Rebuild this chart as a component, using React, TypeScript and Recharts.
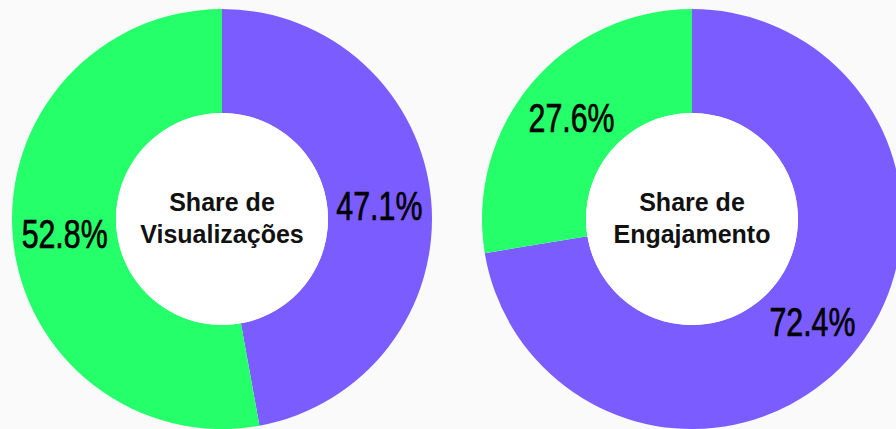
import { Cell, Pie, PieChart } from 'recharts';

const segmentNames = ['Roxo', 'Verde'];
const viewsShare = [47.1, 52.8];
const engagementShare = [72.4, 27.6];
const centerTitles = [
  ['Share de', 'Visualizações'],
  ['Share de', 'Engajamento'],
];

const COLORS = ['#7b5cff', '#25ff6a'];
const RAD = Math.PI / 180;

const viewsData = segmentNames.map((name, i) => ({ name, value: viewsShare[i] }));
const engagementData = segmentNames.map((name, i) => ({ name, value: engagementShare[i] }));

// value label sits in the middle of the ring, in a narrow condensed face
function renderLabel(props: any) {
  const { cx, cy, midAngle, innerRadius, outerRadius, value } = props;
  const r = (innerRadius + outerRadius) / 2;
  const x = cx + r * Math.cos(-midAngle * RAD);
  const y = cy + r * Math.sin(-midAngle * RAD);
  return (
    <text
      x={x - 43}
      y={y + 15}
      fill="#000"
      stroke="#000"
      strokeWidth={0.7}
      fontFamily="'Liberation Sans', Arial, sans-serif"
      fontSize={41}
      textLength={86}
      lengthAdjust="spacingAndGlyphs"
    >
      {`${value.toFixed(1)}%`}
    </text>
  );
}

// title drawn as the label of the white hole, so it sits above the fill
function renderTitle(props: any) {
  const { cx, cy } = props;
  const lines: string[] = props.lines ?? props.payload?.lines ?? [];
  return (
    <text
      x={cx}
      textAnchor="middle"
      fill="#111"
      fontFamily="'Liberation Sans', Arial, sans-serif"
      fontWeight={700}
      fontSize={25}
    >
      <tspan x={cx} y={cy - 8}>{lines[0]}</tspan>
      <tspan x={cx} y={cy + 24}>{lines[1]}</tspan>
    </text>
  );
}

function Donut({ data, cx, cy }: { data: { name: string; value: number }[]; cx: number; cy: number }) {
  return (
    <Pie
      key={`donut-${cx}`}
      data={data}
      dataKey="value"
      cx={cx}
      cy={cy}
      innerRadius={106}
      outerRadius={210}
      startAngle={90}
      endAngle={-270}
      stroke="none"
      label={renderLabel}
      labelLine={false}
      isAnimationActive={false}
    >
      {data.map((d, i) => (
        <Cell key={d.name} fill={COLORS[i]} />
      ))}
    </Pie>
  );
}

export default function App() {
  const cy = 219;
  const centers = [222, 692];
  return (
    <div
      style={{
        position: 'fixed',
        left: 0,
        top: 0,
        width: 896,
        height: 429,
        background: '#fafafa',
        overflow: 'hidden',
      }}
    >
      <PieChart width={896} height={429} margin={{ top: 0, right: 0, bottom: 0, left: 0 }}>
        {Donut({ data: viewsData, cx: centers[0], cy })}
        {Donut({ data: engagementData, cx: centers[1], cy })}
        {centers.map((cx, i) => (
          <Pie
            key={`hole-${cx}`}
            data={[{ name: 'hole', value: 1, lines: centerTitles[i] }]}
            dataKey="value"
            cx={cx}
            cy={cy}
            innerRadius={0}
            outerRadius={106}
            fill="#ffffff"
            stroke="none"
            label={renderTitle}
            labelLine={false}
            isAnimationActive={false}
          />
        ))}
      </PieChart>
    </div>
  );
}
